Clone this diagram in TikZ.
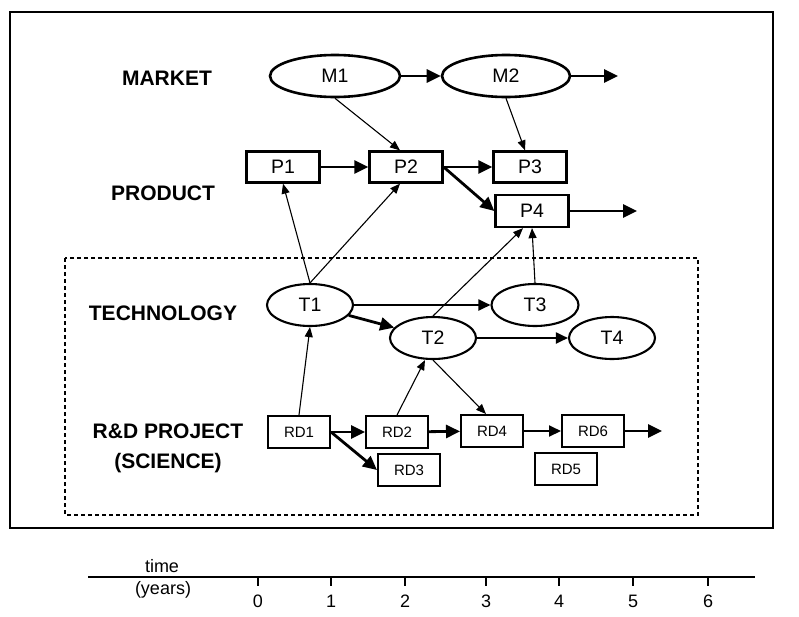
\documentclass[tikz,border=0pt]{standalone}
\usepackage{fontspec}
\setmainfont{Liberation Sans}
\usetikzlibrary{arrows.meta,shapes.geometric}

\begin{document}
\begin{tikzpicture}[x=1pt, y=-1pt,
    box/.style={draw, line width=2.3pt, minimum width=73pt, minimum height=31pt, inner sep=0pt, font=\fontsize{19.5}{19.5}\selectfont},
    rdbox/.style={draw, line width=2pt, minimum width=62pt, minimum height=32pt, inner sep=0pt, font=\fontsize{15}{15}\selectfont},
    oval/.style={draw, ellipse, line width=2.1pt, minimum width=86pt, minimum height=42pt, inner sep=0pt, font=\fontsize{19.5}{19.5}\selectfont},
    layer/.style={font=\bfseries\fontsize{21}{30}\selectfont, align=center},
    flow/.style={-{Triangle[length=14pt,width=13pt]}, line width=2.8pt},
    mid/.style={-{Triangle[length=12pt,width=11pt]}, line width=1.9pt},
    link/.style={-{Triangle[length=10pt,width=8pt]}, line width=1.1pt},
    tick/.style={font=\fontsize{18}{18}\selectfont}
]
    \useasboundingbox (0,0) rectangle (799,616);

    % 外框
    \draw[line width=1.8pt] (10,12) rectangle (773,528);
    \draw[dashed, line width=1.4pt, dash pattern=on 4pt off 3pt] (65,258) rectangle (698,515);

    % 层次标签
    \node[layer] (market) at (167,78) {MARKET};
    \node[layer] (product) at (163,193) {PRODUCT};
    \node[layer] (technology) at (163,313) {TECHNOLOGY};
    \node[layer] (rnd) at (168,448) {R\&D PROJECT\\(SCIENCE)};

    % 市场
    \node[oval, minimum width=130pt, line width=2.6pt] (M1) at (335,76) {M1};
    \node[oval, minimum width=128pt, line width=2.6pt] (M2) at (506,76) {M2};
    \coordinate (Mend) at (618,76);

    % 产品
    \node[box] (P1) at (283,167) {P1};
    \node[box] (P2) at (406,167) {P2};
    \node[box] (P3) at (530,167) {P3};
    \node[box, minimum height=32pt] (P4) at (532,211) {P4};
    \coordinate (Pend) at (637,211);

    % 技术
    \node[oval] (T1) at (310,305) {T1};
    \node[oval] (T2) at (433,338) {T2};
    \node[oval, minimum width=87pt] (T3) at (535,305) {T3};
    \node[oval] (T4) at (612,338) {T4};

    % 研发项目
    \node[rdbox] (RD1) at (299,432) {RD1};
    \node[rdbox] (RD2) at (397,432) {RD2};
    \node[rdbox] (RD3) at (409,470) {RD3};
    \node[rdbox] (RD4) at (492,431) {RD4};
    \node[rdbox] (RD5) at (566,469) {RD5};
    \node[rdbox] (RD6) at (593,431) {RD6};
    \coordinate (RDend) at (662,431);

    % 连线
    \draw[flow] (M1) -- (M2);
    \draw[flow] (M2) -- (Mend);
    \draw[link] (M1.south) -- ([xshift=-6pt]P2.north);
    \draw[link] (M2.south) -- ([xshift=-5pt]P3.north);

    \draw[flow] (P1) -- (P2);
    \draw[flow] (P2) -- (P3);
    \draw[flow] (P2.east) -- (P4.west);
    \draw[flow] (P4) -- (Pend);

    \draw[link] (T1.north) -- (P1.south);
    \draw[link] (T1.north) -- ([xshift=-6pt]P2.south);
    \draw[link] (T2.north) -- ([xshift=-9pt]P4.south);
    \draw[link] (T3.north) -- (P4.south);
    \draw[flow] (T1) -- (T2);
    \draw[mid] (T1) -- (T3);
    \draw[mid] (T2) -- (T4);

    \draw[link] (RD1.north) -- (T1.south);
    \draw[link] (RD2.north) -- ([xshift=-8pt]T2.south);
    \draw[link] (T2.south) -- ([xshift=-6pt]RD4.north);
    \draw[flow] (RD1) -- (RD2);
    \draw[flow] (RD1.east) -- (RD3.west);
    \draw[flow] (RD2) -- (RD4);
    \draw[mid] (RD4) -- (RD6);
    \draw[flow] (RD6) -- (RDend);

    % 时间轴
    \draw[line width=2.2pt] (88,577) -- (755,577);
    \node[tick] (time) at (162,566) {time};
    \node[tick] (years) at (163,590) {(years)};
    \foreach \t/\x in {0/258, 1/331, 2/405, 3/486, 4/559, 5/633, 6/708} {
        \draw[line width=2.8pt] (\x,577) -- (\x,586);
        \node[tick] (y\t) at (\x,601) {\t};
    }
\end{tikzpicture}
\end{document}
